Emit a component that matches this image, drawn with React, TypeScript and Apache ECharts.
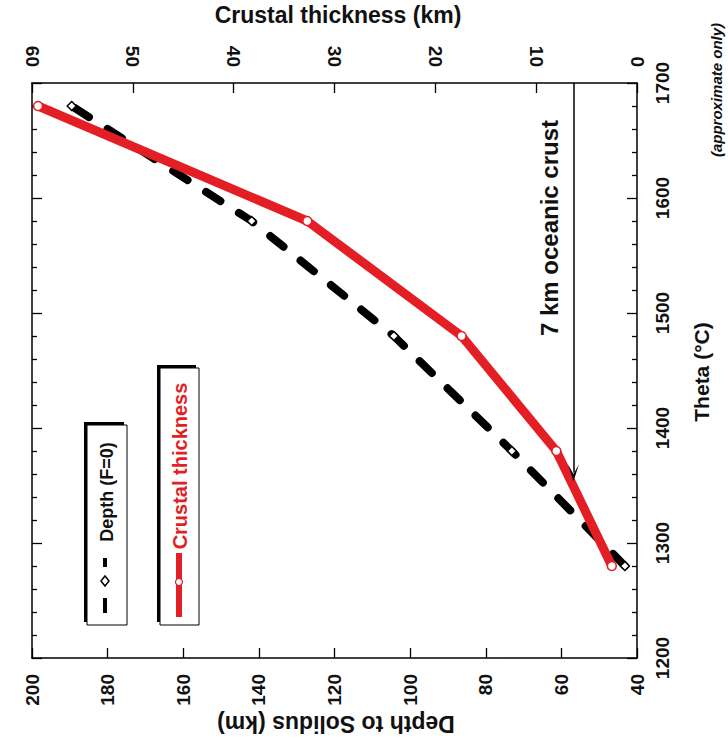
import React, { useEffect, useRef } from "react";
import * as echarts from "echarts";

// Data
const thetaValues = [1280, 1380, 1480, 1580, 1680];
const depthValues = [43.2, 73.1, 104.3, 141.9, 189.5];
const crustValues = [2.5, 8.0, 17.4, 32.7, 59.4];
const oceanicCrust = 6.3; // arrow position (km)
const arrowTipTheta = 1361;

const FONT = "'Liberation Sans', Arial, Helvetica, sans-serif";
const RED = "#e31e24";

export default function App() {
  const ref = useRef<HTMLDivElement>(null);
  useEffect(() => {
    if (!ref.current) return;
    const chart = echarts.init(ref.current, undefined, { renderer: "svg" });
    const depthData = thetaValues.map((t, i) => [depthValues[i], t]);
    const crustData = thetaValues.map((t, i) => [crustValues[i], t]);
    const labelBase = {
      fontFamily: FONT,
      fontWeight: "bold" as const,
      fontSize: 19,
      color: "#111",
      formatter: (v: number) => String(v),
    };
    const tick = { show: true, inside: true, length: 10, lineStyle: { color: "#000", width: 1.3 } };
    const line = { show: true, onZero: false, lineStyle: { color: "#000", width: 1.5 } };
    const option: any = {
      animation: false,
      backgroundColor: "#fff",
      grid: { left: 32, right: 91, top: 83, bottom: 85, containLabel: false },
      xAxis: [
        {
          type: "value",
          position: "bottom",
          min: 40,
          max: 200,
          interval: 20,
          inverse: true,
          axisLine: line,
          axisTick: tick,
          splitLine: { show: false },
          axisLabel: { ...labelBase, rotate: 90, margin: 16 },
        },
        {
          type: "value",
          position: "top",
          min: 0,
          max: 60,
          interval: 10,
          inverse: true,
          axisLine: line,
          axisTick: tick,
          splitLine: { show: false },
          axisLabel: { ...labelBase, rotate: 90, margin: 16 },
        },
      ],
      yAxis: [
        {
          type: "value",
          position: "right",
          min: 1200,
          max: 1700,
          interval: 100,
          axisLine: line,
          axisTick: tick,
          minorTick: { show: true, splitNumber: 5, length: 5, lineStyle: { color: "#000", width: 1.3 } },
          splitLine: { show: false },
          axisLabel: { ...labelBase, rotate: 90, margin: 16 },
        },
        {
          type: "value",
          position: "left",
          min: 1200,
          max: 1700,
          interval: 100,
          axisLine: line,
          axisTick: tick,
          minorTick: { show: true, splitNumber: 5, length: 5, lineStyle: { color: "#000", width: 1.3 } },
          splitLine: { show: false },
          axisLabel: { show: false },
        },
      ],
      series: [
        {
          name: "Depth (F=0)",
          type: "line",
          xAxisIndex: 0,
          yAxisIndex: 0,
          data: depthData,
          symbol: "diamond",
          symbolSize: 9,
          showAllSymbol: true,
          lineStyle: { color: "#000", width: 8, type: [17, 22], cap: "round" },
          itemStyle: { color: "#fff", borderColor: "#000", borderWidth: 1.5 },
          z: 2,
        },
        {
          name: "Crustal thickness",
          type: "line",
          xAxisIndex: 1,
          yAxisIndex: 0,
          data: crustData,
          symbol: "circle",
          symbolSize: 9,
          showAllSymbol: true,
          lineStyle: { color: RED, width: 9, cap: "round", join: "round" },
          itemStyle: { color: "#fff", borderColor: RED, borderWidth: 1.5 },
          z: 3,
          markLine: {
            silent: true,
            symbol: ["none", "path://M5,0 L10,12 L5,5 L0,12 Z"],
            symbolSize: [11, 17],
            label: { show: false },
            lineStyle: { color: "#000", width: 1.5, type: "solid" },
            itemStyle: { color: "#000" },
            data: [
              [
                { coord: [oceanicCrust, 1700] },
                { coord: [oceanicCrust, arrowTipTheta] },
              ],
            ],
          },
        },
      ],
      graphic: [
        {
          type: "text",
          x: 338,
          y: 15,
          style: { text: "Crustal thickness (km)", font: `bold 23px ${FONT}`, fill: "#111", align: "center", verticalAlign: "middle" },
        },
        {
          type: "text",
          x: 336,
          y: 724,
          rotation: Math.PI,
          style: { text: "Depth to Solidus (km)", font: `bold 23px ${FONT}`, fill: "#111", align: "center", verticalAlign: "middle" },
        },
        {
          type: "text",
          x: 701,
          y: 372,
          rotation: Math.PI / 2,
          style: { text: "Theta (°C)", font: `bold 21px ${FONT}`, fill: "#111", align: "center", verticalAlign: "middle" },
        },
        {
          type: "text",
          x: 716,
          y: 90,
          rotation: Math.PI / 2,
          style: { text: "(approximate only)", font: `italic bold 15px ${FONT}`, fill: "#111", align: "center", verticalAlign: "middle" },
        },
        {
          type: "text",
          x: 549,
          y: 228,
          rotation: Math.PI / 2,
          style: { text: "7 km oceanic crust", font: `bold 24px ${FONT}`, fill: "#111", align: "center", verticalAlign: "middle" },
        },
        // Legend box 1: Depth
        { type: "rect", shape: { x: 84, y: 422, width: 40, height: 200 }, style: { fill: "#000" }, z: 10 },
        { type: "rect", shape: { x: 87, y: 425, width: 40, height: 200 }, style: { fill: "#fff", stroke: "#000", lineWidth: 1 }, z: 11 },
        { type: "line", shape: { x1: 105, y1: 613, x2: 105, y2: 598 }, style: { stroke: "#000", lineWidth: 4 }, z: 12 },
        { type: "polygon", shape: { points: [[105, 576], [109, 581], [105, 586], [101, 581]] }, style: { fill: "#fff", stroke: "#000", lineWidth: 1.5 }, z: 12 },
        { type: "line", shape: { x1: 105, y1: 567, x2: 105, y2: 558 }, style: { stroke: "#000", lineWidth: 4 }, z: 12 },
        {
          type: "text",
          x: 107,
          y: 492,
          rotation: Math.PI / 2,
          z: 12,
          style: { text: "Depth (F=0)", font: `bold 18px ${FONT}`, fill: "#111", align: "center", verticalAlign: "middle" },
        },
        // Legend box 2: Crustal thickness
        { type: "rect", shape: { x: 157, y: 365, width: 39, height: 257 }, style: { fill: "#000" }, z: 10 },
        { type: "rect", shape: { x: 160, y: 368, width: 39, height: 257 }, style: { fill: "#fff", stroke: "#000", lineWidth: 1 }, z: 11 },
        { type: "line", shape: { x1: 179, y1: 617, x2: 179, y2: 553 }, style: { stroke: RED, lineWidth: 6 }, z: 12 },
        { type: "circle", shape: { cx: 179, cy: 582, r: 3.5 }, style: { fill: "#fff", stroke: RED, lineWidth: 1.2 }, z: 13 },
        {
          type: "text",
          x: 180,
          y: 466,
          rotation: Math.PI / 2,
          z: 12,
          style: { text: "Crustal thickness", font: `bold 20px ${FONT}`, fill: RED, align: "center", verticalAlign: "middle" },
        },
      ],
    };
    chart.setOption(option);
    return () => chart.dispose();
  }, []);
  return (
    <div
      ref={ref}
      style={{ position: "absolute", left: 0, top: 0, width: 728, height: 743, background: "#fff" }}
    />
  );
}
